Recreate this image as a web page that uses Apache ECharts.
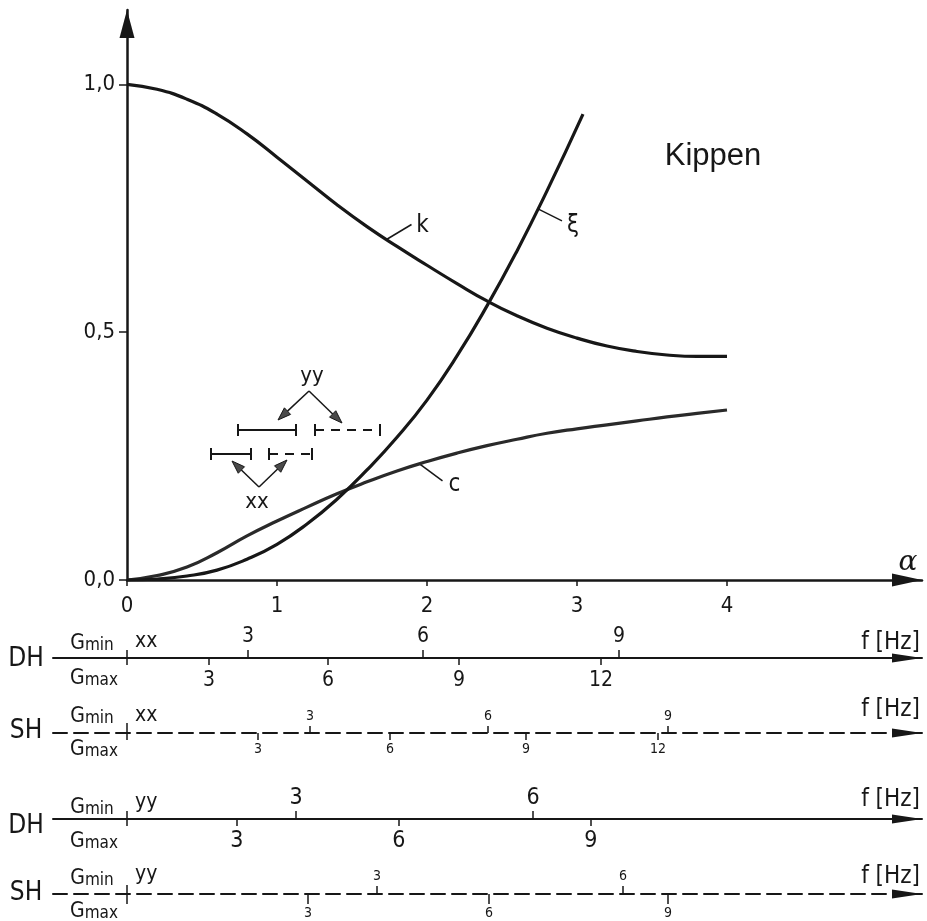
<!DOCTYPE html>
<html>
<head>
<meta charset="utf-8">
<script src="https://cdn.jsdelivr.net/npm/echarts@6/dist/echarts.min.js"></script>
<style>
  html, body { margin: 0; padding: 0; background: #fff; }
  #chart { width: 927px; height: 921px; }
</style>
</head>
<body>
<div id="chart"></div>
<script>
// ---- curves over α ----
const alphaKC = [0, 0.2, 0.4, 0.6, 0.8, 1.0, 1.2, 1.4, 1.6, 1.8, 2.0, 2.2, 2.4, 2.6, 2.8, 3.0, 3.2, 3.4, 3.6, 3.8, 4.0];
const kValues = [1.0, 0.99, 0.97, 0.94, 0.9, 0.853, 0.805, 0.757, 0.713, 0.673, 0.635, 0.598, 0.563, 0.533, 0.508, 0.488, 0.472, 0.461, 0.454, 0.451, 0.451];
const cValues = [0, 0.009, 0.026, 0.055, 0.089, 0.119, 0.147, 0.174, 0.198, 0.22, 0.239, 0.256, 0.271, 0.284, 0.296, 0.305, 0.313, 0.321, 0.329, 0.336, 0.343];
const alphaXi = [0, 0.2, 0.4, 0.6, 0.8, 1.0, 1.2, 1.4, 1.6, 1.8, 2.0, 2.2, 2.4, 2.6, 2.8, 3.04];
const xiValues = [0, 0.002, 0.008, 0.02, 0.042, 0.072, 0.113, 0.163, 0.222, 0.288, 0.363, 0.452, 0.553, 0.664, 0.785, 0.94];

// main axes
const alphaTicks = [0, 1, 2, 3, 4];
const valueTicks = [0, 0.5, 1.0];

// curve name tags: name and the α where the leader meets the curve
const tagNames = ['k', 'c', 'ξ'];
const tagAlpha = [1.73, 1.95, 2.74];

// frequency scales f [Hz] placed along α (upper = Gmin, lower = Gmax)
const dhXxMinF = [3, 6, 9];        const dhXxMinAt = [0.807, 1.973, 3.28];
const dhXxMaxF = [3, 6, 9, 12];    const dhXxMaxAt = [0.547, 1.34, 2.213, 3.16];
const shXxMinF = [3, 6, 9];        const shXxMinAt = [1.22, 2.407, 3.607];
const shXxMaxF = [3, 6, 9, 12];    const shXxMaxAt = [0.873, 1.753, 2.66, 3.54];
const dhYyMinF = [3, 6];           const dhYyMinAt = [1.127, 2.707];
const dhYyMaxF = [3, 6, 9];        const dhYyMaxAt = [0.733, 1.813, 3.093];
const shYyMinF = [3, 6];           const shYyMinAt = [1.667, 3.307];
const shYyMaxF = [3, 6, 9];        const shYyMaxAt = [1.207, 2.413, 3.607];

// ---- styling ----
const INK = '#171717';
const HEAD = '#4a4a4a';
const FONT = "'Liberation Sans Narrow', 'DejaVu Sans Condensed', 'Liberation Sans', sans-serif";

const X_MIN = 0, X_MAX = 5.3;                 // main α range
const LEFT = 127, RIGHT = 5;                  // α = 0 at x = 127, 150 px per unit
const AUX_MIN = -74 / 150;                    // aux lines start left of α = 0

function zip(xs, ys) { return xs.map((x, i) => [x, ys[i]]); }
function valueAt(xs, ys, a) {
  for (let i = 1; i < xs.length; i++) {
    if (a <= xs[i]) {
      const t = (a - xs[i - 1]) / (xs[i] - xs[i - 1]);
      return ys[i - 1] + t * (ys[i] - ys[i - 1]);
    }
  }
  return ys[ys.length - 1];
}

const tagCurves = [[alphaKC, kValues], [alphaKC, cValues], [alphaXi, xiValues]];
const tagData = tagAlpha.map((a, i) => [a, valueAt(tagCurves[i][0], tagCurves[i][1], a)]);
// leader end and text centre, in px relative to the anchor on the curve
const tagLead = [[25, -15], [23, 17], [24, 12]];
const tagText = [[36, -14], [35, 21], [35, 17]];

// ---- auxiliary frequency rows ----
const rows = [
  { y: 658, dashed: false, minAt: dhXxMinAt, minF: dhXxMinF, maxAt: dhXxMaxAt, maxF: dhXxMaxF,
    fs: 21, upM: 11, loM: 12, upT: 8, loT: 7, zUp: 8, zLo: 9, head: 'DH', key: 'xx' },
  { y: 733, dashed: true, minAt: shXxMinAt, minF: shXxMinF, maxAt: shXxMaxAt, maxF: shXxMaxF,
    fs: 14, upM: 10, loM: 9, upT: 7, loT: 7, zUp: 10, zLo: 5, head: 'SH', key: 'xx' },
  { y: 819, dashed: false, minAt: dhYyMinAt, minF: dhYyMinF, maxAt: dhYyMaxAt, maxF: dhYyMaxF,
    fs: 23, upM: 9, loM: 11, upT: 8, loT: 7, zUp: 8, zLo: 9, head: 'DH', key: 'yy' },
  { y: 894, dashed: true, minAt: shYyMinAt, minF: shYyMinF, maxAt: shYyMaxAt, maxF: shYyMaxF,
    fs: 14, upM: 11, loM: 12, upT: 8, loT: 10, zUp: 9, zLo: 5, head: 'SH', key: 'yy' }
];
// text offsets (px from the row line)
const rowText = [
  { head: 1, gmin: -16, gmax: 19, key: -16, unit: -15 },
  { head: -2, gmin: -18, gmax: 15, key: -17, unit: -23 },
  { head: 7, gmin: -13, gmax: 21, key: -16, unit: -19 },
  { head: -1, gmin: -17, gmax: 16, key: -19, unit: -17 }
];

const grids = [{ left: LEFT, right: RIGHT, top: 10, bottom: 341 }];
const xAxes = [{
  gridIndex: 0, type: 'value', min: X_MIN, max: X_MAX,
  axisLine: { onZero: false, lineStyle: { color: INK, width: 2.5 },
    symbol: ['none', 'triangle'], symbolSize: [13, 30], symbolOffset: [0, -15] },
  axisTick: { customValues: alphaTicks, length: 6, lineStyle: { color: INK, width: 1.5 } },
  axisLabel: { customValues: alphaTicks, margin: 15, fontSize: 22, color: INK, fontFamily: FONT,
    formatter: v => String(Math.round(v)) },
  splitLine: { show: false }
}];
const yAxes = [{
  gridIndex: 0, type: 'value', min: 0, max: 1.15,
  axisLine: { onZero: false, lineStyle: { color: INK, width: 2.5 },
    symbol: ['none', 'triangle'], symbolSize: [15, 28], symbolOffset: [0, -14] },
  axisTick: { customValues: valueTicks, length: 8, lineStyle: { color: INK, width: 1.5 } },
  axisLabel: { customValues: valueTicks, margin: 12, fontSize: 22, color: INK, fontFamily: FONT,
    formatter: v => v.toFixed(1).replace('.', ',') },
  splitLine: { show: false }
}];

rows.forEach((r, i) => {
  const g = i + 1;
  grids.push({ left: 53, right: RIGHT, top: r.y, height: 0 });
  yAxes.push({ gridIndex: g, type: 'value', min: 0, max: 1, show: false });
  const fmt = (at, fs) => v => { const j = at.indexOf(v); return j < 0 ? '' : String(fs[j]); };
  const lineStyle = { color: INK, width: 2, type: r.dashed ? [14, 7] : 'solid' };
  // mark at α = 0, upper half
  xAxes.push({
    gridIndex: g, type: 'value', position: 'top', min: AUX_MIN, max: X_MAX,
    axisLine: { show: false, onZero: false },
    axisTick: { customValues: [0], length: r.zUp, lineStyle: { color: INK, width: 1.5 } },
    axisLabel: { show: false }, splitLine: { show: false }
  });
  // upper scale (Gmin)
  xAxes.push({
    gridIndex: g, type: 'value', position: 'top', min: AUX_MIN, max: X_MAX, offset: 0,
    axisLine: { show: false, onZero: false },
    axisTick: { customValues: r.minAt, length: r.upT, lineStyle: { color: INK, width: 1.5 } },
    axisLabel: { customValues: r.minAt, margin: r.upM, fontSize: r.fs, color: INK, fontFamily: FONT,
      formatter: fmt(r.minAt, r.minF) },
    splitLine: { show: false }
  });
  // lower scale (Gmax) carries the line and arrow
  xAxes.push({
    gridIndex: g, type: 'value', position: 'bottom', min: AUX_MIN, max: X_MAX,
    axisLine: { onZero: false, lineStyle: lineStyle,
      symbol: ['none', 'triangle'], symbolSize: [9, 30], symbolOffset: [0, -15] },
    axisTick: { customValues: [0].concat(r.maxAt), length: r.loT, lineStyle: { color: INK, width: 1.5 } },
    axisLabel: { customValues: r.maxAt, margin: r.loM, fontSize: r.fs, color: INK, fontFamily: FONT,
      formatter: fmt(r.maxAt, r.maxF) },
    splitLine: { show: false }
  });
});

// ---- free text and legend keys ----
function txt(x, y, text, size, align, extra) {
  return {
    type: 'text', x: x, y: y, silent: true,
    style: Object.assign({ text: text, fill: INK, fontSize: size, fontFamily: FONT,
      align: align || 'center', verticalAlign: 'middle' }, extra || {})
  };
}
function fracText(x, y, sub) {
  return {
    type: 'text', x: x, y: y, silent: true,
    style: {
      text: '{g|G}{s|' + sub + '}', align: 'center', verticalAlign: 'middle',
      rich: {
        g: { fontSize: 21, fontFamily: FONT, fill: INK, verticalAlign: 'bottom', lineHeight: 24 },
        s: { fontSize: 17, fontFamily: FONT, fill: INK, verticalAlign: 'bottom', lineHeight: 24 }
      }
    }
  };
}
function arrowKey(apex, tip) {
  const dx = tip[0] - apex[0], dy = tip[1] - apex[1];
  const len = Math.hypot(dx, dy), ux = dx / len, uy = dy / len;
  const bx = tip[0] - ux * 13, by = tip[1] - uy * 13;
  const nx = -uy * 4.5, ny = ux * 4.5;
  return [
    { type: 'line', silent: true, shape: { x1: apex[0], y1: apex[1], x2: bx, y2: by },
      style: { stroke: INK, lineWidth: 1.5 } },
    { type: 'polygon', silent: true,
      shape: { points: [[tip[0], tip[1]], [bx + nx, by + ny], [bx - nx, by - ny]] },
      style: { fill: HEAD, stroke: INK, lineWidth: 1 } }
  ];
}
function barKey(x1, x2, y, dashed) {
  return [
    { type: 'line', silent: true, shape: { x1: x1, y1: y, x2: x2, y2: y },
      style: { stroke: INK, lineWidth: 2, lineDash: dashed ? [9, 7] : null } },
    { type: 'line', silent: true, shape: { x1: x1, y1: y - 6, x2: x1, y2: y + 6 },
      style: { stroke: INK, lineWidth: 2 } },
    { type: 'line', silent: true, shape: { x1: x2, y1: y - 6, x2: x2, y2: y + 6 },
      style: { stroke: INK, lineWidth: 2 } }
  ];
}

const graphics = [];
graphics.push(txt(713, 156, 'Kippen', 31, 'center', { fontFamily: "'Liberation Sans', sans-serif" }));
graphics.push(txt(908, 563, 'α', 28, 'center', { fontFamily: "'DejaVu Serif', 'Liberation Serif', serif", fontStyle: 'italic' }));
// legend keys: yy above, xx below
graphics.push(txt(312, 376, 'yy', 22, 'center'));
graphics.push(...arrowKey([309, 391], [278, 420]), ...arrowKey([309, 391], [342, 423]));
graphics.push(...barKey(238, 296, 430, false), ...barKey(315, 380, 430, true));
graphics.push(...barKey(211, 251, 454, false), ...barKey(269, 312, 454, true));
graphics.push(...arrowKey([259, 487], [232, 461]), ...arrowKey([259, 487], [287, 460]));
graphics.push(txt(257, 502, 'xx', 22, 'center'));

rows.forEach((r, i) => {
  const o = rowText[i];
  graphics.push(txt(26, r.y + o.head, r.head, 26, 'center'));
  graphics.push(fracText(92, r.y + o.gmin, 'min'));
  graphics.push(fracText(94, r.y + o.gmax, 'max'));
  graphics.push(txt(135, r.y + o.key, r.key, 21, 'left'));
  graphics.push(txt(920, r.y + o.unit, 'f [Hz]', 24, 'right'));
});

const curveLine = { color: INK, width: 3.2 };
const lineCommon = { type: 'line', xAxisIndex: 0, yAxisIndex: 0, smooth: 0.5,
  showSymbol: false, silent: true };
const option = {
  animation: false,
  backgroundColor: '#ffffff',
  grid: grids,
  xAxis: xAxes,
  yAxis: yAxes,
  graphic: graphics,
  series: [
    Object.assign({ name: 'k', data: zip(alphaKC, kValues), lineStyle: curveLine }, lineCommon),
    Object.assign({ name: 'c', data: zip(alphaKC, cValues), lineStyle: { color: '#2a2a2a', width: 3.2 } }, lineCommon),
    Object.assign({ name: 'ξ', data: zip(alphaXi, xiValues), lineStyle: curveLine }, lineCommon),
    { name: 'tags', type: 'custom', xAxisIndex: 0, yAxisIndex: 0, data: tagData, silent: true,
      renderItem: function (params, api) {
        const p = api.coord([api.value(0), api.value(1)]);
        const i = params.dataIndex;
        return { type: 'group', children: [
          { type: 'line', shape: { x1: p[0], y1: p[1], x2: p[0] + tagLead[i][0], y2: p[1] + tagLead[i][1] },
            style: { stroke: INK, lineWidth: 1.5 } },
          { type: 'text', x: p[0] + tagText[i][0], y: p[1] + tagText[i][1],
            style: { text: tagNames[i], fill: INK, fontSize: 24, fontFamily: FONT,
              align: 'center', verticalAlign: 'middle' } }
        ] };
      } }
  ]
};

const chart = echarts.init(document.getElementById('chart'), null, { renderer: 'canvas' });
chart.setOption(option);
</script>
</body>
</html>
